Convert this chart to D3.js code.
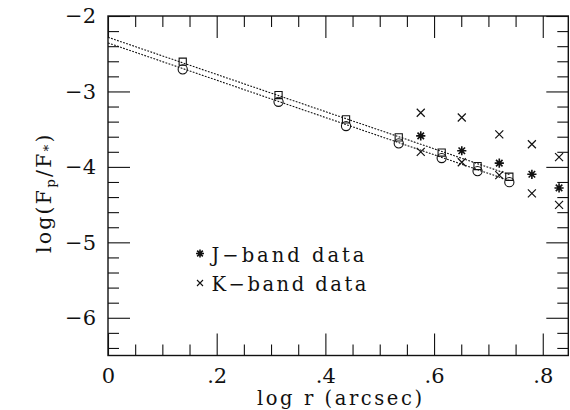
<!DOCTYPE html>
<html><head><meta charset="utf-8">
<script src="https://cdn.jsdelivr.net/npm/d3@7"></script>
<style>
html,body{margin:0;padding:0;background:#fff;}
svg{display:block;}
text{font-family:"DejaVu Serif",serif;fill:#111;}
</style></head>
<body>
<svg id="c" width="570" height="410"></svg>
<script>
// ---- data ----
const fitX = [0.1375, 0.3138, 0.438, 0.535, 0.614, 0.680, 0.7385];
const squareY = [-2.606, -3.048, -3.370, -3.609, -3.810, -3.989, -4.131];
const circleY = [-2.707, -3.137, -3.459, -3.688, -3.883, -4.056, -4.202];
const bandX = [0.5755, 0.651, 0.720, 0.780, 0.830];
const jBandY = [-3.589, -3.786, -3.950, -4.098, -4.279];
const kBandHigh = [-3.282, -3.346, -3.569, -3.700, -3.870];
const kBandLow = [-3.800, -3.939, -4.109, -4.351, -4.503];
const lineX = [0, 0.74];
const upperLineY = [-2.282, -4.105];
const lowerLineY = [-2.357, -4.185];
const xMajor = [0, 0.2, 0.4, 0.6, 0.8];
const xLabels = ["0", ".2", ".4", ".6", ".8"];
const yMajor = [-6, -5, -4, -3, -2];
const yLabels = ["\u22126", "\u22125", "\u22124", "\u22123", "\u22122"];
const legendLabels = ["J\u2212band data", "K\u2212band data"];

// ---- layout ----
const L = 108, T = 16, R = 568.3, B = 355.5;
const svg = d3.select("#c");
const x = d3.scaleLinear().domain([0, 0.847]).range([L, R]);
const y = d3.scaleLinear().domain([-6.5, -2]).range([B, T]);

const xMinor = d3.range(0, 0.846, 0.05).filter(v => !xMajor.some(m => Math.abs(m - v) < 1e-6));
const yMinor = d3.range(-6.4, -2.0, 0.2).filter(v => !yMajor.some(m => Math.abs(m - v) < 1e-6));

function styleAxis(g){
  g.select(".domain").remove();
  g.selectAll("line").attr("stroke","#111").attr("stroke-width",1.1);
}
const tickFont = 21;
const tickFam = "Liberation Serif";
// bottom
svg.append("g").attr("transform",`translate(0,${B})`)
  .call(d3.axisBottom(x).tickValues(xMajor).tickSize(-22).tickPadding(12.5)
    .tickFormat((d,i)=>xLabels[i])).call(styleAxis)
  .call(g=>g.selectAll("text").attr("font-size",tickFont).attr("font-family",tickFam).attr("fill","#111"));
svg.append("g").attr("transform",`translate(0,${B})`)
  .call(d3.axisBottom(x).tickValues(xMinor).tickSize(-11).tickFormat("")).call(styleAxis);
// top
svg.append("g").attr("transform",`translate(0,${T})`)
  .call(d3.axisTop(x).tickValues(xMajor).tickSize(-22).tickFormat("")).call(styleAxis);
svg.append("g").attr("transform",`translate(0,${T})`)
  .call(d3.axisTop(x).tickValues(xMinor).tickSize(-11).tickFormat("")).call(styleAxis);
// left
svg.append("g").attr("transform",`translate(${L},0)`)
  .call(d3.axisLeft(y).tickValues(yMajor).tickSize(-22).tickPadding(12)
    .tickFormat((d,i)=>yLabels[i])).call(styleAxis)
  .call(g=>g.selectAll("text").attr("font-size",tickFont).attr("font-family",tickFam).attr("fill","#111"));
svg.append("g").attr("transform",`translate(${L},0)`)
  .call(d3.axisLeft(y).tickValues(yMinor).tickSize(-11).tickFormat("")).call(styleAxis);
// right
svg.append("g").attr("transform",`translate(${R},0)`)
  .call(d3.axisRight(y).tickValues(yMajor).tickSize(-22).tickFormat("")).call(styleAxis);
svg.append("g").attr("transform",`translate(${R},0)`)
  .call(d3.axisRight(y).tickValues(yMinor).tickSize(-11).tickFormat("")).call(styleAxis);

// frame
svg.append("rect").attr("x",L).attr("y",T).attr("width",R-L).attr("height",B-T)
  .attr("fill","none").attr("stroke","#111").attr("stroke-width",1.4);

// fit lines
const line = d3.line().x(d=>x(d[0])).y(d=>y(d[1]));
[upperLineY, lowerLineY].forEach(ys=>{
  svg.append("path").datum(lineX.map((v,i)=>[v, ys[i]]))
    .attr("d", line).attr("fill","none").attr("stroke","#111")
    .attr("stroke-width",1.1).attr("stroke-dasharray","1.8,1.4");
});

// markers
const mk = svg.append("g").attr("fill","none").attr("stroke","#111");
function square(cx, cy, s){ return `M${cx-s},${cy-s}h${2*s}v${2*s}h${-2*s}Z`; }
function cross(cx, cy, s){ return `M${cx-s},${cy-s}L${cx+s},${cy+s}M${cx-s},${cy+s}L${cx+s},${cy-s}`; }
function aster(cx, cy, s){
  let p = "";
  for (let k=0;k<4;k++){ const a = k*Math.PI/4; const dx = s*Math.cos(a), dy = s*Math.sin(a);
    p += `M${cx-dx},${cy-dy}L${cx+dx},${cy+dy}`; }
  return p;
}
fitX.forEach((v,i)=>{
  mk.append("path").attr("d", square(x(v), y(squareY[i]), 3.6)).attr("stroke-width",1.1);
  mk.append("circle").attr("cx", x(v)).attr("cy", y(circleY[i])).attr("r",4.6).attr("stroke-width",1.1);
});
bandX.forEach((v,i)=>{
  mk.append("path").attr("d", aster(x(v), y(jBandY[i]), 4.6)).attr("stroke-width",1.6);
  mk.append("path").attr("d", cross(x(v), y(kBandHigh[i]), 4)).attr("stroke-width",1.2);
  mk.append("path").attr("d", cross(x(v), y(kBandLow[i]), 4)).attr("stroke-width",1.2);
});

// legend
const lg = svg.append("g");
lg.append("path").attr("d", aster(200, 253.5, 4)).attr("stroke","#111").attr("stroke-width",1.6).attr("fill","none");
lg.append("path").attr("d", cross(200, 283, 3)).attr("stroke","#111").attr("stroke-width",1.1).attr("fill","none");
const lf = 19.5;
lg.append("text").attr("x",211.5).attr("y",262).attr("font-size",lf)
  .attr("textLength",153).attr("lengthAdjust","spacing").text(legendLabels[0]);
lg.append("text").attr("x",211.5).attr("y",291).attr("font-size",lf)
  .attr("textLength",155).attr("lengthAdjust","spacing").text(legendLabels[1]);

// axis titles
svg.append("text").attr("x",257).attr("y",405).attr("font-size",lf)
  .attr("textLength",165).attr("lengthAdjust","spacing").text("log r (arcsec)");
const yl = svg.append("text").attr("transform","translate(51,253) rotate(-90)")
  .attr("text-anchor","start").attr("font-size",20.5)
  .attr("letter-spacing",2.2);
yl.append("tspan").text("log(F");
yl.append("tspan").attr("font-size",13.5).attr("dy",4).text("p");
yl.append("tspan").attr("dy",-4).text("/F");
yl.append("tspan").attr("font-size",13.5).attr("dy",2).text("*");
yl.append("tspan").attr("dy",-2).text(")");
</script>
</body></html>
